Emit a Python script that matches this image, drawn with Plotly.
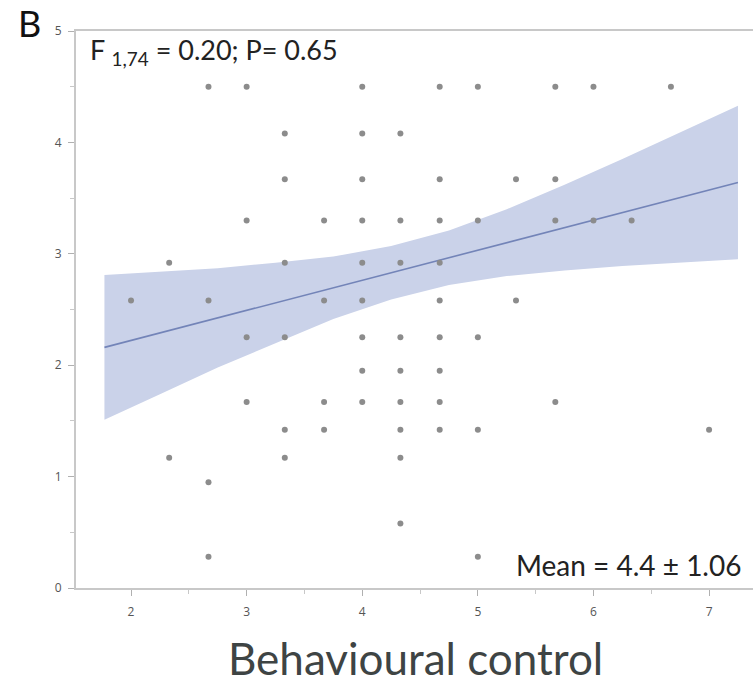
import plotly.graph_objects as go

# Scatter points (behavioural control vs. score)
pt_x = [2.0,
        2.33, 2.33,
        2.67, 2.67, 2.67, 2.67,
        3.0, 3.0, 3.0, 3.0,
        3.33, 3.33, 3.33, 3.33, 3.33, 3.33,
        3.67, 3.67, 3.67, 3.67,
        4.0, 4.0, 4.0, 4.0, 4.0, 4.0, 4.0, 4.0, 4.0,
        4.33, 4.33, 4.33, 4.33, 4.33, 4.33, 4.33, 4.33, 4.33,
        4.67, 4.67, 4.67, 4.67, 4.67, 4.67, 4.67, 4.67, 4.67,
        5.0, 5.0, 5.0, 5.0, 5.0,
        5.33, 5.33,
        5.67, 5.67, 5.67, 5.67,
        6.0, 6.0,
        6.33,
        6.67,
        7.0]
pt_y = [2.58,
        2.92, 1.17,
        4.5, 2.58, 0.95, 0.28,
        4.5, 3.3, 2.25, 1.67,
        4.08, 3.67, 2.92, 2.25, 1.42, 1.17,
        3.3, 2.58, 1.67, 1.42,
        4.5, 4.08, 3.67, 3.3, 2.92, 2.58, 2.25, 1.95, 1.67,
        4.08, 3.3, 2.92, 2.25, 1.95, 1.67, 1.42, 1.17, 0.58,
        4.5, 3.67, 3.3, 2.92, 2.58, 2.25, 1.95, 1.67, 1.42,
        4.5, 3.3, 2.25, 1.42, 0.28,
        3.67, 2.58,
        4.5, 3.67, 3.3, 1.67,
        4.5, 3.3,
        3.3,
        4.5,
        1.42]

# Fitted regression line (end points)
fit_x = [1.77, 7.25]
fit_y = [2.16, 3.64]

# Confidence band edges
band_x = [1.77, 2.25, 2.75, 3.25, 3.75, 4.25, 4.75, 5.25, 5.75, 6.25, 6.75, 7.25]
band_upper = [2.81, 2.84, 2.87, 2.92, 2.975, 3.07, 3.21, 3.40, 3.62, 3.85, 4.09, 4.33]
band_lower = [1.51, 1.74, 1.98, 2.20, 2.415, 2.59, 2.72, 2.80, 2.85, 2.89, 2.92, 2.95]

x_ticks = [2, 3, 4, 5, 6, 7]
y_ticks = [0, 1, 2, 3, 4, 5]

panel_label = "B"
stat_text = "F <sub>1,74</sub> = 0.20; P= 0.65"
mean_text = "Mean = 4.4 ± 1.06"
x_title = "Behavioural control"

fig = go.Figure()
fig.add_trace(go.Scatter(
    x=band_x + band_x[::-1],
    y=band_upper + band_lower[::-1],
    fill="toself", fillcolor="#cad2e9",
    line=dict(width=0), mode="lines", hoverinfo="skip", showlegend=False))
fig.add_trace(go.Scatter(
    x=fit_x, y=fit_y, mode="lines",
    line=dict(color="#7384b8", width=1.6), showlegend=False))
fig.add_trace(go.Scatter(
    x=pt_x, y=pt_y, mode="markers",
    marker=dict(color="#8c8c8c", size=6), showlegend=False))

axis_common = dict(
    showgrid=False, zeroline=False,
    showline=True, linecolor="#c8c8c8", linewidth=2,
    ticks="outside", ticklen=6, tickwidth=1, tickcolor="#b0b0b0",
    tickfont=dict(family="Open Sans", size=12, color="#555555"),
)

fig.update_xaxes(range=[1.524, 7.38], tickvals=x_ticks, mirror=True,
                 minor=dict(dtick=0.5, tick0=0, ticks="outside", ticklen=4, tickcolor="#c8c8c8"),
                 ticklabelstandoff=6, **axis_common)
fig.update_yaxes(range=[0, 5], tickvals=y_ticks,
                 minor=dict(dtick=0.5, tick0=0, ticks="outside", ticklen=4, tickcolor="#c8c8c8"),
                 ticklabelstandoff=4, **axis_common)

fig.add_annotation(text=panel_label, xref="paper", yref="paper",
                   x=(16 - 76) / 677, y=(588 - 23) / 557, xanchor="left", yanchor="middle",
                   showarrow=False, font=dict(family="Lato", size=36, color="#111111"))
fig.add_annotation(text=stat_text, xref="paper", yref="paper",
                   x=(88 - 76) / 677, y=(588 - 51) / 557, xanchor="left", yanchor="middle",
                   showarrow=False, font=dict(family="Lato", size=27, color="#222222"))
fig.add_annotation(text=mean_text, xref="paper", yref="paper",
                   x=(743 - 76) / 677, y=(588 - 565) / 557, xanchor="right", yanchor="middle",
                   showarrow=False, font=dict(family="Lato", size=28, color="#222222"))
fig.add_annotation(text=x_title, xref="paper", yref="paper",
                   x=(415 - 76) / 677, y=(588 - 658) / 557, xanchor="center", yanchor="middle",
                   showarrow=False, font=dict(family="Lato", size=44, color="#3e4444"))

fig.update_layout(
    width=753, height=683,
    margin=dict(l=76, r=0, t=31, b=95),
    paper_bgcolor="white", plot_bgcolor="white",
)

fig.write_html("out.html", config={"displayModeBar": False},
               post_script="document.body.style.margin='0';document.body.style.overflow='hidden';")
